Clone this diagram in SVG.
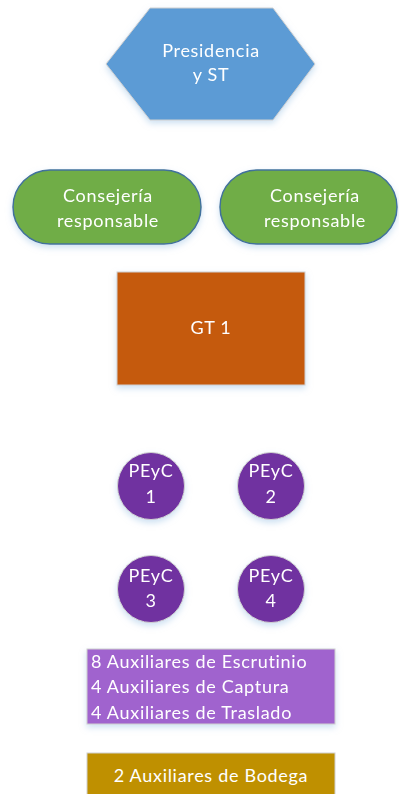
<svg xmlns="http://www.w3.org/2000/svg" width="399" height="794" viewBox="0 0 399 794">
<defs>
<filter id="sh" x="-20%" y="-20%" width="140%" height="150%">
<feDropShadow dx="0" dy="3" stdDeviation="3" flood-color="#9DC3E6" flood-opacity="0.5"/>
</filter>
</defs>
<style>
text{font-family:Lato,"Open Sans","Liberation Sans",sans-serif;font-size:18px;letter-spacing:0.7px;fill:#fff}
.c{text-anchor:middle}
.box{stroke:#D0D0D0;stroke-width:1}
</style>
<rect width="399" height="794" fill="#fff"/>
<g id="presidencia" filter="url(#sh)">
<polygon points="150,8 273,8 315,64 273,120 150,120 106,64" fill="#5B9BD5" class="box"/>
<text class="c" x="211" y="57">Presidencia</text>
<text class="c" x="211" y="81">y ST</text>
</g>
<g id="consejeria1" filter="url(#sh)">
<rect x="13" y="170" width="188" height="74" rx="37" fill="#70AD47" stroke="#41719C" stroke-width="1.5"/>
<text class="c" x="108" y="202">Consejería</text>
<text class="c" x="108" y="227">responsable</text>
</g>
<g id="consejeria2" filter="url(#sh)">
<rect x="220" y="170" width="177" height="74" rx="37" fill="#70AD47" stroke="#41719C" stroke-width="1.5"/>
<text class="c" x="315" y="202">Consejería</text>
<text class="c" x="315" y="227">responsable</text>
</g>
<g id="gt1" filter="url(#sh)">
<rect x="117" y="272" width="188" height="113" fill="#C55A11" class="box"/>
<text class="c" x="211" y="334">GT 1</text>
</g>
<g id="peyc1" filter="url(#sh)">
<circle cx="151" cy="486" r="33.5" fill="#7030A0" class="box"/>
<text class="c" x="151" y="477">PEyC</text>
<text class="c" x="151" y="503">1</text>
</g>
<g id="peyc2" filter="url(#sh)">
<circle cx="271" cy="486" r="33.5" fill="#7030A0" class="box"/>
<text class="c" x="271" y="477">PEyC</text>
<text class="c" x="271" y="503">2</text>
</g>
<g id="peyc3" filter="url(#sh)">
<circle cx="151" cy="589" r="33.5" fill="#7030A0" class="box"/>
<text class="c" x="151" y="582">PEyC</text>
<text class="c" x="151" y="607">3</text>
</g>
<g id="peyc4" filter="url(#sh)">
<circle cx="271" cy="589" r="33.5" fill="#7030A0" class="box"/>
<text class="c" x="271" y="582">PEyC</text>
<text class="c" x="271" y="607">4</text>
</g>
<g id="auxiliares" filter="url(#sh)">
<rect x="87" y="649" width="248" height="75" fill="#A064CE" class="box"/>
<text x="91" y="668">8 Auxiliares de Escrutinio</text>
<text x="91" y="693">4 Auxiliares de Captura</text>
<text x="91" y="719">4 Auxiliares de Traslado</text>
</g>
<g id="bodega">
<rect x="87" y="753" width="248" height="50" fill="#BF9000" class="box"/>
<text class="c" x="211" y="782">2 Auxiliares de Bodega</text>
</g>
<g id="connectors"></g>
</svg>
